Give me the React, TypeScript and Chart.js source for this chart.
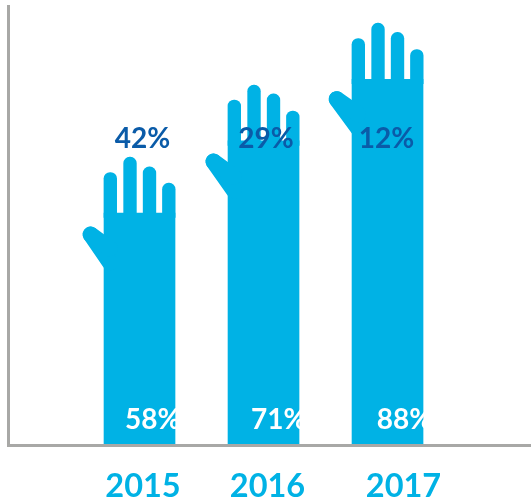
import React, { useEffect, useRef } from "react";
import { Chart, registerables } from "chart.js";

Chart.register(...registerables);

// Categories and labels
const years = ["2015", "2016", "2017"];
const yearSlots = [1, 2, 3];
const yearTickSlots = [1.028, 2.032, 3.129];
const outsideLabels = ["42%", "29%", "12%"];
const insideLabels = ["58%", "71%", "88%"];

// Heights (0 = baseline, 100 = top of the vertical axis)
const palmTops = [52.9, 69.3, 83.3];
const indexTips = [62.1, 78.6, 92.6];
const middleTips = [65.6, 82.0, 96.1];
const ringTips = [63.4, 80.0, 94.0];
const pinkyTips = [59.7, 76.1, 90.1];
const thumbTips = [48.0, 64.6, 78.8];
const thumbUpperEnds = [44.8, 61.2, 75.4];
const thumbLowerEnds = [41.6, 58.0, 72.2];

const fingerSlots = [-0.2355, -0.0766, 0.0806, 0.2363];
const thumbTipSlots = [-0.394, -0.403, -0.41];
const thumbEndSlot = -0.238;
const outsideLabelSlots = [1.024, 2.02, 2.992];
const outsideLabelHeights = [69.7, 69.7, 69.7];
const insideLabelSlots = [0.883, 1.9, 2.913];
const insideLabelHeights = [5.7, 5.7, 5.7];

const BLUE = "#00B2E5";
const DARK = "#0A5BA8";
const AXIS = "#A8A8A6";
const FONT = "Lato, sans-serif";

const percentLabels = {
  id: "percentLabels",
  afterDatasetsDraw(chart: any) {
    const { ctx, scales } = chart;
    ctx.save();
    ctx.textBaseline = "middle";
    ctx.textAlign = "center";
    ctx.fillStyle = DARK;
    ctx.font = `700 28px ${FONT}`;
    outsideLabels.forEach((t, i) => {
      ctx.fillText(t, scales.x.getPixelForValue(outsideLabelSlots[i]), scales.y.getPixelForValue(outsideLabelHeights[i]));
    });
    ctx.textAlign = "left";
    ctx.fillStyle = "#FFFFFF";
    ctx.font = `700 28px ${FONT}`;
    insideLabels.forEach((t, i) => {
      ctx.fillText(t, scales.x.getPixelForValue(insideLabelSlots[i]), scales.y.getPixelForValue(insideLabelHeights[i]));
    });
    ctx.restore();
  },
};

function fingerDataset(tips: number[], slot: number) {
  return {
    type: "bar",
    data: yearSlots.map((s, i) => ({ x: s + slot, y: [palmTops[i] - 1, tips[i]] })),
    backgroundColor: BLUE,
    barThickness: 12.7,
    grouped: false,
    borderSkipped: false,
    borderRadius: { topLeft: 6.35, topRight: 6.35, bottomLeft: 0, bottomRight: 0 },
  };
}

function thumbDataset(i: number, ends: number[]) {
  return {
    type: "line",
    data: [
      { x: yearSlots[i] + thumbTipSlots[i], y: thumbTips[i] },
      { x: yearSlots[i] + thumbEndSlot, y: ends[i] },
    ],
    borderColor: BLUE,
    borderWidth: 16,
    borderCapStyle: "round",
    pointRadius: 0,
    tension: 0,
    fill: false,
  };
}

export default function App() {
  const ref = useRef<HTMLCanvasElement | null>(null);
  useEffect(() => {
    const chart = new Chart(ref.current as HTMLCanvasElement, {
      type: "bar",
      data: {
        datasets: [
          ...yearSlots.flatMap((_, i) => [thumbDataset(i, thumbUpperEnds), thumbDataset(i, thumbLowerEnds)]),
          {
            type: "bar",
            data: yearSlots.map((s, i) => ({ x: s, y: palmTops[i] })),
            backgroundColor: BLUE,
            barThickness: 71,
            grouped: false,
          },
          fingerDataset(indexTips, fingerSlots[0]),
          fingerDataset(middleTips, fingerSlots[1]),
          fingerDataset(ringTips, fingerSlots[2]),
          fingerDataset(pinkyTips, fingerSlots[3]),
        ] as any,
      },
      options: {
        responsive: false,
        animation: false,
        layout: { padding: { left: 8.5, top: 6, right: 0, bottom: 0 } },
        plugins: { legend: { display: false }, tooltip: { enabled: false } },
        scales: {
          x: {
            type: "linear",
            offset: false,
            min: -0.0565,
            max: 4.157,
            grid: { display: false, offset: false },
            border: { display: true, color: AXIS, width: 3, z: 1 },
            afterBuildTicks(scale: any) {
              scale.ticks = yearTickSlots.map((value) => ({ value }));
            },
            afterFit(scale: any) {
              scale.height = 56.5;
            },
            ticks: {
              autoSkip: false,
              maxRotation: 0,
              padding: 14,
              color: BLUE,
              font: { family: FONT, size: 32.5, weight: "700" },
              callback: (_v: any, i: number) => years[i],
            },
          },
          y: {
            min: 0,
            max: 100,
            grid: { display: false },
            border: { display: true, color: AXIS, width: 3, z: 1 },
            ticks: { display: false },
            afterFit(scale: any) {
              scale.width = 0;
            },
          },
        },
      } as any,
      plugins: [percentLabels],
    });
    return () => chart.destroy();
  }, []);
  return (
    <div style={{ position: "absolute", left: 0, top: 0, width: 531, height: 502 }}>
      <canvas ref={ref} width={531} height={502} style={{ display: "block" }} />
    </div>
  );
}
